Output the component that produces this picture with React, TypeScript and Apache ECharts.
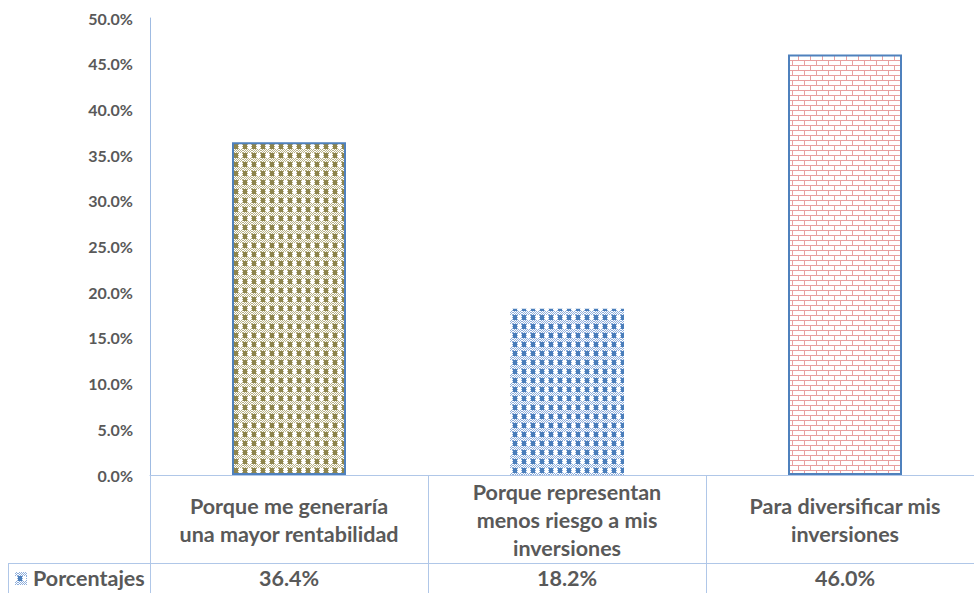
import React, { useEffect, useRef } from "react";
import * as echarts from "echarts";

// Survey answers (category rows of the data table) and their shares in percent
const categories = [
  "Porque me generaría\nuna mayor rentabilidad",
  "Porque representan\nmenos riesgo a mis\ninversiones",
  "Para diversificar mis\ninversiones",
];
const porcentajes = [36.4, 18.2, 46.0];
const seriesName = "Porcentajes";

// Value axis range
const yMin = 0;
const yMax = 50;
const yStep = 5;

const FONT = "Lato, 'Open Sans', sans-serif";
const TEXT = "#595959";
const TABLE_LINE = "#b0c7e8";
const AXIS_LINE = "#9fbbe2";

// 9x9 tile: a dark block, a white block, separated by dotted bands
function makeCheck(dark: string, mid: string): HTMLCanvasElement {
  const c = document.createElement("canvas");
  c.width = 9;
  c.height = 9;
  const ctx = c.getContext("2d")!;
  ctx.fillStyle = "#ffffff";
  ctx.fillRect(0, 0, 9, 9);
  for (let y = 0; y < 9; y++) {
    for (let x = 0; x < 9; x++) {
      const dottedRow = y >= 5;
      const dottedCol = x === 4 || x === 8;
      if (dottedRow || dottedCol) {
        if ((x + y) % 2 === 0) {
          ctx.fillStyle = mid;
          ctx.fillRect(x, y, 1, 1);
        }
      } else if (x < 4) {
        ctx.fillStyle = dark;
        ctx.fillRect(x, y, 1, 1);
      }
    }
  }
  return c;
}

function makeBrick(line: string): HTMLCanvasElement {
  const c = document.createElement("canvas");
  c.width = 12;
  c.height = 10;
  const ctx = c.getContext("2d")!;
  ctx.fillStyle = "#ffffff";
  ctx.fillRect(0, 0, 12, 10);
  ctx.fillStyle = line;
  ctx.fillRect(0, 0, 12, 1);
  ctx.fillRect(0, 5, 12, 1);
  ctx.fillRect(0, 0, 1, 5);
  ctx.fillRect(6, 5, 1, 5);
  return c;
}

function pattern(canvas: HTMLCanvasElement) {
  return {
    image: canvas,
    repeat: "repeat",
    imageWidth: canvas.width,
    imageHeight: canvas.height,
  } as any;
}

export default function App() {
  const ref = useRef<HTMLDivElement>(null);

  useEffect(() => {
    if (!ref.current) return;
    const chart = echarts.init(ref.current, undefined, { renderer: "svg" });

    const olive = pattern(makeCheck("#8e854d", "#b8b186"));
    const blue = pattern(makeCheck("#4a7ebb", "#8eaedb"));
    const brick = pattern(makeBrick("#e89f9f"));
    const legendKey = pattern(makeCheck("#4a7ebb", "#8eaedb"));

    const fills = [
      { color: olive, borderColor: "#4f81bd", borderWidth: 2 },
      { color: blue, borderColor: "#a3bce0", borderWidth: 0 },
      { color: brick, borderColor: "#4f81bd", borderWidth: 2 },
    ];

    const labelFont = {
      fontFamily: FONT,
      fontWeight: "bold",
      fontSize: 21.5,
      color: TEXT,
    };

    chart.setOption({
      animation: false,
      grid: { left: 150, top: 18, width: 834, height: 457 },
      xAxis: [
        {
          type: "category",
          data: categories,
          position: "bottom",
          axisLine: { show: true, lineStyle: { color: TABLE_LINE, width: 1 } },
          axisTick: {
            show: true,
            length: 118,
            inside: false,
            lineStyle: { color: TABLE_LINE, width: 1 },
          },
          axisLabel: {
            ...labelFont,
            interval: 0,
            lineHeight: 28,
            verticalAlign: "middle",
            align: "center",
            margin: 45,
          },
        },
        {
          type: "category",
          data: categories,
          position: "bottom",
          offset: 88,
          axisLine: { show: true, lineStyle: { color: TABLE_LINE, width: 1 } },
          axisTick: { show: false },
          axisLabel: {
            ...labelFont,
            interval: 0,
            verticalAlign: "middle",
            margin: 15,
            formatter: (_v: string, i: number) => porcentajes[i].toFixed(1) + "%",
          },
        },
      ],
      yAxis: {
        type: "value",
        min: yMin,
        max: yMax,
        interval: yStep,
        axisLine: { show: true, lineStyle: { color: AXIS_LINE, width: 1 } },
        axisTick: { show: false },
        splitLine: { show: false },
        axisLabel: {
          fontFamily: FONT,
          fontWeight: "bold",
          fontSize: 16,
          color: TEXT,
          margin: 17,
          formatter: (v: number) => v.toFixed(1) + "%",
        },
      },
      series: [
        {
          name: seriesName,
          type: "bar",
          xAxisIndex: 0,
          barWidth: 114,
          data: porcentajes.map((v, i) => ({ value: v, itemStyle: fills[i] })),
        },
      ],
      graphic: [
        {
          type: "line",
          shape: { x1: 8, y1: 563.5, x2: 150, y2: 563.5 },
          style: { stroke: TABLE_LINE, lineWidth: 1 },
        },
        {
          type: "line",
          shape: { x1: 8.5, y1: 563, x2: 8.5, y2: 593 },
          style: { stroke: TABLE_LINE, lineWidth: 1 },
        },
        {
          type: "rect",
          shape: { x: 15, y: 572, width: 12, height: 13 },
          style: { fill: legendKey },
        },
        {
          type: "text",
          x: 33,
          y: 578,
          style: {
            text: seriesName,
            fontFamily: FONT,
            fontWeight: "bold",
            fontSize: 21.5,
            fill: TEXT,
            verticalAlign: "middle",
          },
        },
      ],
    });

    return () => chart.dispose();
  }, []);

  // The table's last column runs past the right edge, so the chart canvas is
  // wider than the visible frame and the overflow is clipped.
  return (
    <div
      style={{
        position: "fixed",
        left: 0,
        top: 0,
        width: 974,
        height: 593,
        overflow: "hidden",
        background: "#fff",
      }}
    >
      <div ref={ref} style={{ width: 990, height: 593 }} />
    </div>
  );
}
